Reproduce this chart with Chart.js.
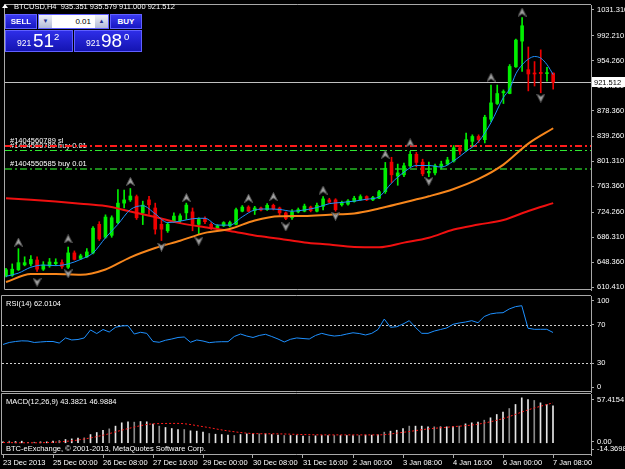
<!DOCTYPE html>
<html>
<head>
<meta charset="utf-8">
<title>BTCUSD,H4</title>
<script src="https://cdn.jsdelivr.net/npm/chart.js@4.4.1/dist/chart.umd.min.js"></script>
<style>
  html, body { margin: 0; padding: 0; background: #000; }
  #wrap { position: relative; width: 625px; height: 469px; overflow: hidden; background: #000;
          font-family: "Liberation Sans", Arial, sans-serif; }
  #wrap canvas { position: absolute; left: 0; }
  .txt { position: absolute; z-index: 5; color: #fff; font-size: 7.5px; line-height: 1; white-space: nowrap; }
  .tri { position: absolute; z-index: 5; left: 2px; top: 4px; width: 0; height: 0;
         border-left: 3px solid transparent; border-right: 3px solid transparent; border-bottom: 4px solid #fff; }
  .box { position: absolute; z-index: 5; box-sizing: border-box; color: #fff; }
  .btn { background: linear-gradient(#3a3af0, #1717c2); border: 1px solid #6060ff;
         font-size: 8px; font-weight: bold; text-align: center; line-height: 13px; }
  .lot { background: #fff; border: 1px solid #6060ff; color: #000; font-size: 8px; }
  .lot .ar { position: absolute; top: 0; width: 13px; height: 13px; background: linear-gradient(#eef0f8, #b4bcd8);
             color: #243090; font-size: 6px; line-height: 13px; text-align: center; }
  .lot .v { position: absolute; right: 17px; top: 2.5px; line-height: 1; }
  .quote { background: linear-gradient(#2e2ee8, #1414b2); border: 1px solid #6060ff; }
  .quote span { position: absolute; line-height: 1; }
</style>
</head>
<body>
<div id="wrap">
  <canvas id="cMain" width="625" height="295" style="top:0"></canvas>
  <canvas id="cRsi" width="625" height="98" style="top:295px"></canvas>
  <canvas id="cMacd" width="625" height="76" style="top:393px"></canvas>

  <div class="tri"></div>
  <div class="txt" style="left:14px; top:3.2px">BTCUSD,H4&nbsp; 935.351 935.579 911.000 921.512</div>

  <div class="box btn" style="left:5px; top:14px; width:32px; height:15px">SELL</div>
  <div class="box lot" style="left:38px; top:14px; width:71px; height:15px">
    <span class="ar" style="left:0">&#9660;</span>
    <span class="v">0.01</span>
    <span class="ar" style="right:0">&#9650;</span>
  </div>
  <div class="box btn" style="left:110px; top:14px; width:32px; height:15px">BUY</div>
  <div class="box quote" style="left:5px; top:30px; width:68px; height:22px">
    <span style="left:11px; top:8.4px; font-size:8.6px">921</span>
    <span style="left:27px; top:-0.4px; font-size:19px">51</span>
    <span style="left:48px; top:1px; font-size:9.5px">2</span>
  </div>
  <div class="box quote" style="left:74px; top:30px; width:68px; height:22px">
    <span style="left:11px; top:8.4px; font-size:8.6px">921</span>
    <span style="left:26px; top:-0.4px; font-size:19px">98</span>
    <span style="left:49px; top:1px; font-size:9.5px">0</span>
  </div>

  <div class="txt" style="left:6px; top:299.5px">RSI(14) 62.0104</div>
  <div class="txt" style="left:6px; top:398px">MACD(12,26,9) 43.3821 46.9884</div>
  <div class="txt" style="left:6px; top:445px">BTC-eExchange, &copy; 2001-2013, MetaQuotes Software Corp.</div>
</div>

<script>
// time axis: one H4 bar per index, a label every 8 bars
const timeLabels = ['23 Dec 2013', '25 Dec 00:00', '26 Dec 08:00', '27 Dec 16:00', '29 Dec 00:00', '30 Dec 08:00',
  '31 Dec 16:00', '2 Jan 00:00', '3 Jan 08:00', '4 Jan 16:00', '6 Jan 00:00', '7 Jan 08:00'];
const timeTickBars = [0, 8, 16, 24, 32, 40, 48, 56, 64, 72, 80, 88];

// candles
const openP = [627.8, 628.2, 636.7, 644.1, 645.6, 651.5, 637.6, 642.6, 646.0, 647.5,
  640.5, 662.3, 653.9, 656.4, 662.3, 705.7, 686.0, 689.0, 708.3, 737.9,
  742.8, 747.8, 723.1, 742.8, 730.5, 705.7, 695.9, 711.2, 711.2, 723.1,
  724.6, 705.7, 714.6, 705.7, 699.8, 703.4, 703.4, 705.7, 725.6, 731.9,
  726.5, 730.5, 728.0, 734.5, 730.5, 723.1, 715.7, 724.6, 725.6, 731.9,
  725.6, 733.0, 742.8, 742.8, 735.4, 736.4, 740.4, 742.8, 747.8, 742.8,
  745.3, 755.2, 800.1, 778.9, 780.9, 794.6, 812.0, 800.1, 783.8, 783.8,
  793.7, 797.2, 801.6, 821.9, 817.9, 831.7, 839.1, 834.2, 865.3, 889.1,
  905.4, 904.3, 944.9, 983.9, 940.5, 935.0, 936.5, 934.5, 935.351];
const highP = [639.0, 645.6, 668.7, 656.4, 658.3, 656.4, 649.0, 653.9, 653.4, 651.9,
  671.2, 665.3, 660.4, 668.7, 702.3, 709.7, 720.1, 718.6, 758.6, 757.6,
  760.1, 750.2, 740.9, 748.3, 737.9, 713.1, 708.3, 723.1, 721.6, 737.9,
  730.5, 715.7, 717.1, 708.3, 705.3, 709.7, 710.8, 730.5, 734.2, 733.9,
  733.0, 731.9, 737.2, 736.4, 731.9, 724.6, 728.0, 730.5, 736.4, 733.4,
  737.9, 747.8, 745.3, 744.6, 740.9, 743.1, 748.3, 750.5, 749.0, 748.3,
  757.2, 799.7, 807.5, 797.2, 798.7, 816.4, 814.9, 804.6, 800.1, 797.2,
  801.6, 807.5, 825.3, 825.3, 844.2, 841.6, 841.6, 871.3, 917.2, 917.2,
  909.8, 948.3, 986.9, 1019.5, 975.0, 952.8, 970.6, 943.9, 935.579];
const lowP = [626.0, 626.7, 635.6, 642.6, 642.6, 634.2, 635.6, 640.5, 643.0, 638.6,
  638.6, 651.5, 652.4, 654.9, 660.8, 681.1, 684.5, 686.0, 706.8, 730.5,
  740.4, 713.1, 705.3, 720.6, 690.9, 681.1, 693.4, 708.3, 706.8, 713.1,
  695.9, 690.9, 706.8, 697.9, 697.9, 702.3, 701.9, 704.8, 724.6, 724.6,
  720.6, 726.0, 726.8, 727.5, 719.7, 712.7, 713.1, 723.1, 724.6, 724.6,
  724.6, 727.5, 737.9, 725.6, 733.4, 734.9, 739.4, 742.3, 741.6, 741.6,
  744.6, 752.7, 769.0, 765.0, 777.9, 792.7, 792.7, 779.4, 777.9, 780.9,
  789.8, 795.7, 800.1, 812.0, 816.4, 824.3, 829.8, 829.3, 861.3, 887.6,
  889.1, 903.9, 943.9, 937.9, 908.3, 915.7, 905.4, 923.1, 911.0];
const closeP = [636.7, 637.6, 647.5, 647.5, 652.4, 637.6, 644.1, 648.5, 648.2, 641.6,
  662.3, 652.4, 657.9, 663.8, 699.8, 683.5, 716.7, 715.7, 737.9, 742.8,
  748.7, 715.7, 734.9, 735.4, 698.3, 698.3, 705.7, 718.2, 718.6, 734.9,
  705.7, 713.1, 709.7, 700.8, 703.4, 708.3, 708.3, 727.9, 731.9, 725.6,
  730.5, 727.5, 734.5, 729.4, 723.1, 714.6, 724.6, 728.0, 733.4, 726.5,
  734.5, 744.3, 739.4, 727.9, 738.9, 741.3, 745.3, 747.8, 742.8, 746.3,
  755.2, 790.8, 780.9, 783.8, 794.6, 812.0, 799.7, 782.4, 786.1, 794.6,
  797.2, 803.5, 821.9, 816.9, 834.2, 839.1, 834.2, 868.3, 890.1, 904.3,
  907.3, 945.4, 985.4, 1007.2, 934.0, 934.0, 934.5, 936.0, 921.512];

// moving averages
const maBlueBars = [0, 2, 4, 6, 8, 10, 12, 14, 16, 18, 20, 22, 24, 26, 28, 30, 32, 34, 36, 38,
  40, 42, 44, 46, 48, 50, 52, 54, 56, 58, 60, 61, 62, 64, 66, 68, 70, 72, 74, 76,
  78, 80, 81, 82, 83, 84, 85, 86, 87, 88];
const maBlue = [626.7, 631.6, 640.5, 643.8, 643.0, 645.6, 652.4, 662.3, 685.3, 705.7,
  728.0, 733.9, 721.6, 708.3, 710.5, 714.2, 714.9, 704.5, 704.5, 717.1,
  727.5, 729.0, 728.3, 725.6, 727.5, 731.2, 737.1, 738.9, 740.9, 743.8,
  747.5, 757.2, 768.3, 784.9, 795.0, 795.0, 792.7, 802.1, 816.4, 831.3,
  860.2, 898.4, 911.3, 934.3, 947.9, 956.5, 960.5, 958.0, 948.3, 933.0];
const maSlowBars = [0, 4, 8, 12, 16, 20, 24, 28, 32, 36, 40, 44, 48, 52, 56, 60, 64, 68, 72, 76, 80, 84, 88];
const maOrange = [618.2, 630.1, 630.4, 629.1, 637.1, 655.6, 669.7, 680.8, 692.7, 698.6, 711.6, 717.9,
  718.3, 720.4, 722.3, 729.7, 738.9, 748.3, 759.4, 774.6, 796.4, 828.3, 851.6];
const maRed = [745.3, 743.1, 740.4, 737.1, 733.4, 725.3, 716.8, 707.5, 701.3, 695.7, 688.7, 683.8,
  678.2, 674.9, 671.2, 670.9, 677.9, 685.3, 697.9, 705.3, 712.2, 726.0, 737.9];

// fractal arrows
const fractalUpBars = [2, 10, 20, 29, 39, 43, 51, 61, 65, 78, 83];
const fractalUp = [678.6, 683.5, 770.9, 746.3, 745.3, 747.8, 757.6, 812.0, 829.3, 929.1, 1027.9];
const fractalDownBars = [5, 10, 25, 31, 45, 53, 68, 86];
const fractalDown = [617.8, 630.7, 671.2, 680.1, 701.9, 718.2, 770.9, 897.5];

// price axis, bid and order lines
const priceTicks = [1031.31, 992.21, 954.26, 916.31, 878.36, 839.26, 801.31, 763.36, 724.26, 686.31, 648.36, 610.41];
const bidPrice = 921.512;
const tradePrices = [819.0, 825.3, 789.7];
const tradeLabels = ['#1404560789 buy 0.01', '#1404560789 sl', '#1404550585 buy 0.01'];

// RSI(14)
const rsi = [49.5, 51.6, 52.6, 53.3, 53.1, 51.6, 52.1, 52.6, 52.6, 51.0,
  56.3, 54.2, 54.7, 56.3, 64.6, 60.9, 65.1, 62.5, 67.4, 68.8,
  69.1, 60.4, 62.2, 61.1, 52.6, 51.8, 53.9, 55.2, 56.8, 57.3,
  51.8, 54.2, 53.1, 51.4, 52.1, 52.4, 52.4, 57.8, 60.4, 58.3,
  56.8, 58.9, 60.1, 57.8, 55.2, 52.1, 54.9, 56.3, 55.7, 55.2,
  58.9, 61.1, 59.4, 58.3, 58.9, 60.4, 61.7, 60.9, 59.4, 61.1,
  65.1, 76.0, 67.4, 68.0, 70.8, 74.3, 67.2, 61.1, 61.1, 63.5,
  65.1, 66.7, 70.5, 71.9, 72.9, 74.3, 72.2, 78.6, 81.3, 82.3,
  82.6, 86.5, 88.9, 89.9, 66.4, 65.3, 65.3, 65.3, 62.0];
const rsiLevels = [70, 30];
const rsiTickVals = [94.8, 70, 30, 5.2];
const rsiTickText = ['100', '70', '30', '0'];

// MACD(12,26,9)
const macdHist = [1.0, 1.9, 1.5, 1.9, 0.3, 0.7, 1.1, 1.1, 1.9, 2.7,
  3.9, 4.6, 5.4, 5.8, 9.7, 12.1, 14.8, 16.4, 19.6, 23.5,
  24.7, 24.3, 25.0, 24.7, 21.9, 19.6, 18.0, 16.8, 15.6, 15.6,
  14.1, 13.7, 12.5, 10.9, 10.1, 9.7, 9.0, 8.6, 9.7, 10.5,
  10.5, 10.5, 10.5, 9.7, 9.0, 8.6, 8.6, 8.6, 7.8, 7.8,
  8.2, 8.6, 8.6, 8.6, 8.6, 8.6, 8.6, 8.6, 9.0, 9.0,
  9.3, 12.5, 13.7, 14.8, 16.8, 19.6, 19.6, 19.6, 18.8, 18.8,
  18.8, 18.8, 19.2, 19.6, 22.3, 23.5, 24.3, 26.6, 29.4, 33.3,
  36.0, 40.3, 45.1, 52.9, 50.9, 49.8, 47.0, 45.1, 43.4];
const macdSignalBars = [0, 4, 8, 12, 16, 20, 24, 28, 32, 36, 40, 44, 48, 52, 56, 60, 64, 68, 72, 76, 80, 84, 88];
const macdSignal = [0.3, 0.0, 0.6, 3.3, 8.9, 16.7, 22.3, 22.8, 19.0, 14.0, 10.9, 10.5,
  9.7, 9.3, 9.3, 9.3, 12.3, 16.3, 18.9, 21.9, 28.5, 38.7, 47.0];
const macdTickVals = [50.4, 1.3, -7.7];
const macdTickText = ['57.4154', '0.00', '-14.3698'];

const FONT = '"Liberation Sans", Arial, sans-serif';
Chart.defaults.font.family = FONT;
Chart.defaults.font.size = 7.5;
Chart.defaults.color = '#ffffff';
Chart.defaults.animation = false;

const X_MIN = -0.16, X_MAX = 94.08;
const AXIS_W = 34;
const FRAME = '#a8a8a8';

const barIdx = openP.map((_, i) => i);
const candleColors = barIdx.map(i => closeP[i] >= openP[i] ? '#00f000' : '#f00000');
const pts = (xs, ys) => xs.map((x, k) => ({ x: x, y: ys[k] }));

function makeArrow(up) {
  const c = document.createElement('canvas');
  c.width = 9; c.height = 9;
  const g = c.getContext('2d');
  g.fillStyle = '#a4a4a4';
  g.strokeStyle = '#5c5c5c';
  g.lineWidth = 1;
  g.beginPath();
  if (up) {
    g.moveTo(4.5, 0.5); g.lineTo(8.5, 8.5); g.lineTo(4.5, 6); g.lineTo(0.5, 8.5);
  } else {
    g.moveTo(4.5, 8.5); g.lineTo(8.5, 0.5); g.lineTo(4.5, 3); g.lineTo(0.5, 0.5);
  }
  g.closePath();
  g.fill();
  g.stroke();
  return c;
}
const arrowUp = makeArrow(true);
const arrowDown = makeArrow(false);

// keep edge labels from shrinking the plot area
function noPad(sc) {
  sc.paddingTop = 0; sc.paddingBottom = 0; sc.paddingLeft = 0; sc.paddingRight = 0;
}

function xScale(show) {
  const s = {
    type: 'linear', min: X_MIN, max: X_MAX, offset: false, display: show,
    grid: { display: show, drawOnChartArea: false, tickLength: 3, color: FRAME, offset: false },
    border: { display: false },
    afterFit: sc => { noPad(sc); if (show) sc.height = 14; }
  };
  if (show) {
    s.afterBuildTicks = sc => { sc.ticks = timeTickBars.map(v => ({ value: v })); };
    s.ticks = { autoSkip: false, maxRotation: 0, align: 'start', padding: 0, color: '#fff',
      callback: (v, i) => timeLabels[i] };
  }
  return s;
}

function yScale(min, max, vals, label) {
  return {
    position: 'right', min: min, max: max,
    afterFit: sc => { sc.width = AXIS_W; noPad(sc); },
    afterBuildTicks: sc => { sc.ticks = vals.map(v => ({ value: v })); },
    ticks: { autoSkip: false, padding: 3, color: '#fff', callback: (v, i) => label(v, i) },
    grid: { drawOnChartArea: false, tickLength: 3, color: FRAME },
    border: { display: true, color: FRAME }
  };
}

// black background + panel frame, with optional extra drawing
function panel(id, extra) {
  return {
    id: id,
    beforeDraw(chart) {
      const ctx = chart.ctx;
      ctx.save();
      ctx.fillStyle = '#000';
      ctx.fillRect(0, 0, chart.width, chart.height);
      ctx.restore();
    },
    beforeDatasetsDraw(chart) {
      if (extra && extra.under) extra.under(chart);
    },
    afterDraw(chart) {
      const { ctx, chartArea: a } = chart;
      ctx.save();
      ctx.strokeStyle = FRAME;
      ctx.lineWidth = 1;
      ctx.beginPath();
      ctx.moveTo(a.right, a.top - 0.5);
      ctx.lineTo(a.left - 0.5, a.top - 0.5);
      ctx.lineTo(a.left - 0.5, a.bottom - 0.5);
      ctx.lineTo(a.right, a.bottom - 0.5);
      ctx.stroke();
      ctx.restore();
      if (extra && extra.over) extra.over(chart);
    }
  };
}

function hLine(ctx, a, y, color, width, dash) {
  ctx.strokeStyle = color;
  ctx.lineWidth = width;
  ctx.setLineDash(dash || []);
  ctx.beginPath();
  ctx.moveTo(a.left, y);
  ctx.lineTo(a.right, y);
  ctx.stroke();
  ctx.setLineDash([]);
}

const tradeColors = ['#30e830', '#ff1c1c', '#1c8a1c'];
const tradeWidths = [1, 2, 2];

const mainDecor = panel('mainDecor', {
  under(chart) {
    const { ctx, chartArea: a, scales: { y } } = chart;
    ctx.save();
    hLine(ctx, a, Math.round(y.getPixelForValue(bidPrice)) + 0.5, '#c0c0c0', 1);
    ctx.font = '7.5px ' + FONT;
    ctx.textBaseline = 'bottom';
    tradePrices.forEach((p, k) => {
      const w = tradeWidths[k];
      const ly = Math.round(y.getPixelForValue(p)) + (w === 1 ? 0.5 : 0);
      hLine(ctx, a, ly, tradeColors[k], w, [7, 3, 2, 3]);
      ctx.fillStyle = '#fff';
      ctx.fillText(tradeLabels[k], a.left + 5, ly - 1);
    });
    ctx.restore();
  },
  over(chart) {
    const { ctx, chartArea: a, scales: { y } } = chart;
    const by = Math.round(y.getPixelForValue(bidPrice));
    ctx.save();
    ctx.fillStyle = '#fff';
    ctx.fillRect(a.right + 1, by - 5, chart.width - a.right, 10);
    ctx.fillStyle = '#000';
    ctx.font = '7.5px ' + FONT;
    ctx.textBaseline = 'middle';
    ctx.fillText(bidPrice.toFixed(3), a.right + 3, by + 0.5);
    ctx.restore();
  }
});

const rsiDecor = panel('rsiDecor', {
  under(chart) {
    const { ctx, chartArea: a, scales: { y } } = chart;
    ctx.save();
    rsiLevels.forEach(v => hLine(ctx, a, Math.round(y.getPixelForValue(v)) + 0.5, '#d0d0d0', 1, [2, 2]));
    ctx.restore();
  }
});

const macdDecor = panel('macdDecor');

const common = {
  responsive: false,
  maintainAspectRatio: false,
  devicePixelRatio: 1,
  animation: false,
  events: [],
  plugins: { legend: { display: false }, tooltip: { enabled: false } }
};

new Chart(document.getElementById('cMain'), {
  type: 'bar',
  data: {
    datasets: [
      { type: 'line', data: pts(fractalUpBars, fractalUp), showLine: false, pointStyle: arrowUp, order: 0 },
      { type: 'line', data: pts(fractalDownBars, fractalDown), showLine: false, pointStyle: arrowDown, order: 0 },
      { type: 'line', data: pts(maBlueBars, maBlue), borderColor: '#1e90ff', borderWidth: 1,
        pointRadius: 0, cubicInterpolationMode: 'monotone', order: 1 },
      { type: 'line', data: pts(maSlowBars, maOrange), borderColor: '#f7861c', borderWidth: 2,
        pointRadius: 0, cubicInterpolationMode: 'monotone', order: 1 },
      { type: 'line', data: pts(maSlowBars, maRed), borderColor: '#f01010', borderWidth: 2,
        pointRadius: 0, cubicInterpolationMode: 'monotone', order: 1 },
      { data: barIdx.map(i => ({ x: i, y: [openP[i], closeP[i]] })), backgroundColor: candleColors,
        barThickness: 3, minBarLength: 1, grouped: false, order: 2 },
      { data: barIdx.map(i => ({ x: i, y: [lowP[i], highP[i]] })), backgroundColor: candleColors,
        barThickness: 1, grouped: false, order: 3 }
    ]
  },
  options: Object.assign({}, common, {
    layout: { padding: { left: 2, top: 2, right: 0, bottom: 1 } },
    scales: {
      x: xScale(false),
      y: yScale(605.98, 1038.72, priceTicks, v => v.toFixed(3))
    }
  }),
  plugins: [mainDecor]
});

new Chart(document.getElementById('cRsi'), {
  type: 'line',
  data: {
    datasets: [
      { data: pts(barIdx, rsi), borderColor: '#1e90ff', borderWidth: 1, pointRadius: 0, tension: 0 }
    ]
  },
  options: Object.assign({}, common, {
    layout: { padding: { left: 2, top: 1, right: 0, bottom: 1 } },
    scales: {
      x: xScale(false),
      y: yScale(0, 100, rsiTickVals, (v, i) => rsiTickText[i])
    }
  }),
  plugins: [rsiDecor]
});

new Chart(document.getElementById('cMacd'), {
  type: 'bar',
  data: {
    datasets: [
      { type: 'line', data: pts(macdSignalBars, macdSignal), borderColor: '#ff1a1a', borderWidth: 1,
        borderDash: [2, 2], pointRadius: 0, cubicInterpolationMode: 'monotone', order: 0 },
      { data: pts(barIdx, macdHist), backgroundColor: barIdx.map(i => i % 4 === 1 ? '#8a8a8a' : '#e6e6e6'),
        barThickness: 1, grouped: false, order: 1 }
    ]
  },
  options: Object.assign({}, common, {
    layout: { padding: { left: 2, top: 1, right: 0, bottom: 0 } },
    scales: {
      x: xScale(true),
      y: yScale(-14.3698, 57.4154, macdTickVals, (v, i) => macdTickText[i])
    }
  }),
  plugins: [macdDecor]
});
</script>
</body>
</html>
